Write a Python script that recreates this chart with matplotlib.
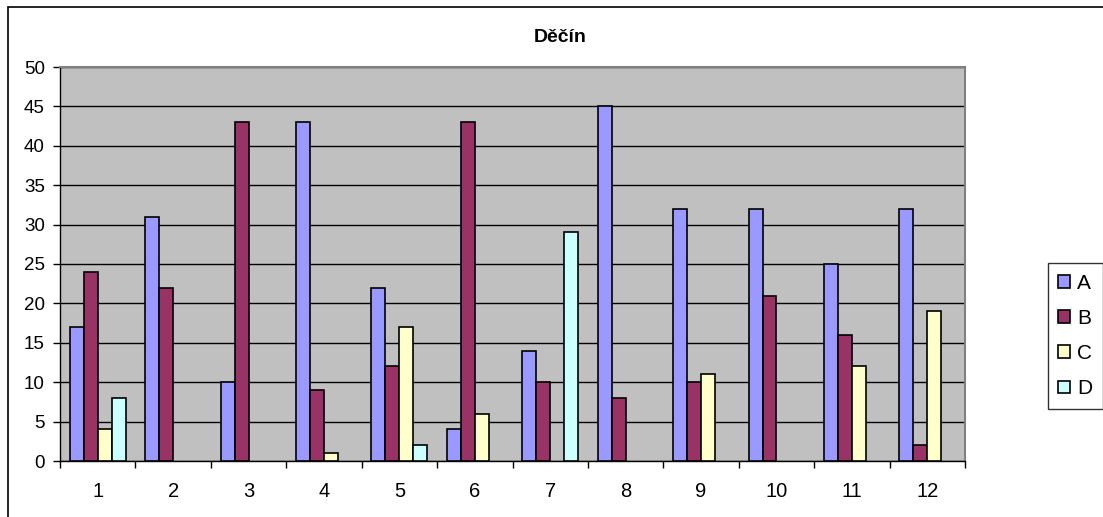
import numpy as np
from matplotlib import pyplot as plt
from matplotlib.patches import Rectangle

months = [str(m) for m in range(1, 13)]
series_names = ["A", "B", "C", "D"]
a_vals = [17, 31, 10, 43, 22, 4, 14, 45, 32, 32, 25, 32]
b_vals = [24, 22, 43, 9, 12, 43, 10, 8, 10, 21, 16, 2]
c_vals = [4, 0, 0, 1, 17, 6, 0, 0, 11, 0, 12, 19]
d_vals = [8, 0, 0, 0, 2, 0, 29, 0, 0, 0, 0, 0]
colors = ["#9999FF", "#993366", "#FFFFCC", "#CCFFFF"]

plt.rcParams['font.family'] = ['Liberation Sans', 'DejaVu Sans']

fig = plt.figure(figsize=(11.03, 5.17), dpi=100)
ax = fig.add_axes([60 / 1103, 1 - 461 / 517, 905 / 1103, 394 / 517])
ax.set_facecolor("#C0C0C0")

x = np.arange(len(months))
w = 0.185
for i, (vals, col, name) in enumerate(zip([a_vals, b_vals, c_vals, d_vals], colors, series_names)):
    # skip zero bars so they don't leave a black line on the axis
    h = [v if v > 0 else np.nan for v in vals]
    ax.bar(x + (i - 1.5) * w, h, w, color=col, edgecolor="black", linewidth=1.2,
           label=name, zorder=3)

ax.set_xlim(-0.5, 11.5)
ax.set_ylim(0, 50)
ax.set_yticks(range(0, 51, 5))
ax.yaxis.grid(True, color="black", linewidth=1, zorder=1)
ax.set_axisbelow(True)

# ticks between groups, labels at group centres
ax.set_xticks(np.arange(-0.5, 12, 1))
ax.set_xticklabels([])
ax.set_xticks(x, minor=True)
ax.set_xticklabels(months, minor=True)
ax.tick_params(axis="x", which="minor", length=0, pad=15, labelsize=14.5)
ax.tick_params(axis="x", which="major", length=5, width=1, direction="out")
ax.tick_params(axis="y", length=5, width=1, labelsize=13.5, pad=6)

for side in ["top", "right"]:
    ax.spines[side].set_color("#808080")
    ax.spines[side].set_linewidth(1.5)
for side in ["left", "bottom"]:
    ax.spines[side].set_color("black")
    ax.spines[side].set_linewidth(1)

fig.text(560 / 1103, 1 - 37 / 517, "Děčín", ha="center", va="center",
         fontsize=14, fontweight="bold")

leg = ax.legend(loc="center left", bbox_to_anchor=(1048 / 1103, 1 - 336 / 517),
                bbox_transform=fig.transFigure, frameon=True, fancybox=False,
                edgecolor="black", fontsize=15, handlelength=0.55, handleheight=0.55,
                handletextpad=0.35, labelspacing=0.78, borderpad=0.5,
                borderaxespad=0)
leg.get_frame().set_linewidth(1)

# outer chart border
fig.patches.append(Rectangle((8 / 1103, -0.2), 1.2, 1.2 - 7 / 517,
                             transform=fig.transFigure, fill=False,
                             edgecolor="black", linewidth=1.2))

plt.savefig('out.png', dpi=100)
